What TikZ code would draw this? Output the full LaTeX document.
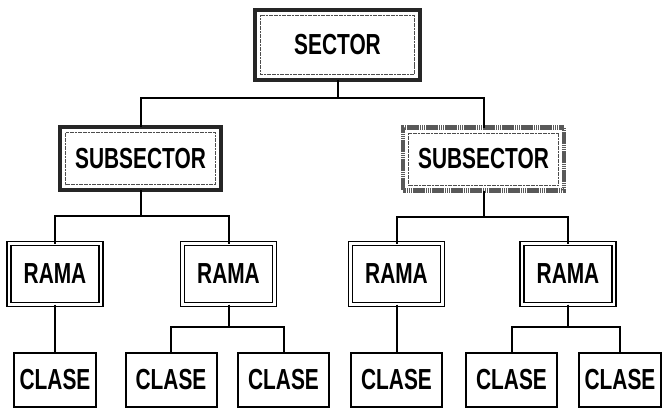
\documentclass[tikz,border=0pt]{standalone}
\usepackage{fontspec}
\setmainfont{Liberation Sans}[FakeStretch=0.72]
\usetikzlibrary{positioning}
\tikzstyle{S} = [rectangle,
			draw=black!85, line width=4.5pt,
			minimum width=165pt, minimum height=70pt,
			path picture={\draw [line width=0.9pt, black!70, dash pattern=on 2pt off 0.6pt]
				([shift={(5.5pt,-5.5pt)}]path picture bounding box.north west) rectangle
				([shift={(-5.5pt,5.5pt)}]path picture bounding box.south east);}]
\tikzstyle{U} = [S, minimum width=161pt, minimum height=63pt]
\tikzstyle{R} = [rectangle,
			draw, line width=1.5pt, double, double distance=2.2pt,
			minimum width=92pt, minimum height=61pt]
\tikzstyle{K} = [rectangle,
			draw, line width=2pt,
			minimum width=91pt, minimum height=54pt]
\tikzstyle{L} = [draw, line width=2pt]

\begin{document}
\begin{tikzpicture}[x=1pt, y=-1pt, on grid, outer sep=0pt,
			font=\fontsize{29}{34}\selectfont\bfseries]

\useasboundingbox (0,0) rectangle (663,409);

\node [S] at (337.5,45)
(sec)
	{SECTOR};

\node [U, below left=113.5pt and 197pt of sec]
(subl)
	{SUBSECTOR};

\node [U, below right=114pt and 146pt of sec, draw=black!65,
	dash pattern=on 1.5pt off 0.4pt]
(subr)
	{SUBSECTOR};

\node [R, below left=115.5pt and 85.5pt of subl]
(ramaa)
	{RAMA};

\node [R, below right=115.5pt and 88pt of subl]
(ramab)
	{RAMA};

\node [R, below left=115pt and 87pt of subr]
(ramac)
	{RAMA};

\node [R, below right=115pt and 84.5pt of subr]
(ramad)
	{RAMA};

\node [K, below=105.5pt of ramaa, minimum width=82pt]
(clasea)
	{CLASE};

\node [K, below left=105.5pt and 57.5pt of ramab]
(claseb)
	{CLASE};

\node [K, below right=105.5pt and 55pt of ramab]
(clasec)
	{CLASE};

\node [K, below=105.5pt of ramac]
(clased)
	{CLASE};

\node [K, below left=105.5pt and 56.5pt of ramad]
(clasee)
	{CLASE};

\node [K, below right=105.5pt and 52pt of ramad, minimum width=82pt]
(clasef)
	{CLASE};

\path[L] (sec.south) -- ++(0,18) -| (subl.north);

\path[L] (sec.south) -- ++(0,18) -| (subr.north);

\path[L] (subl.south) -- ++(0,26) -| (ramaa.north);

\path[L] (subl.south) -- ++(0,26) -| (ramab.north);

\path[L] (subr.south) -- ++(0,26) -| (ramac.north);

\path[L] (subr.south) -- ++(0,26) -| (ramad.north);

\path[L] (ramaa) -- (clasea);

\path[L] (ramab.south) -- ++(0,22) -| (claseb.north);

\path[L] (ramab.south) -- ++(0,22) -| (clasec.north);

\path[L] (ramac) -- (clased);

\path[L] (ramad.south) -- ++(0,22) -| (clasee.north);

\path[L] (ramad.south) -- ++(0,22) -| (clasef.north);

\end{tikzpicture}
\end{document}
